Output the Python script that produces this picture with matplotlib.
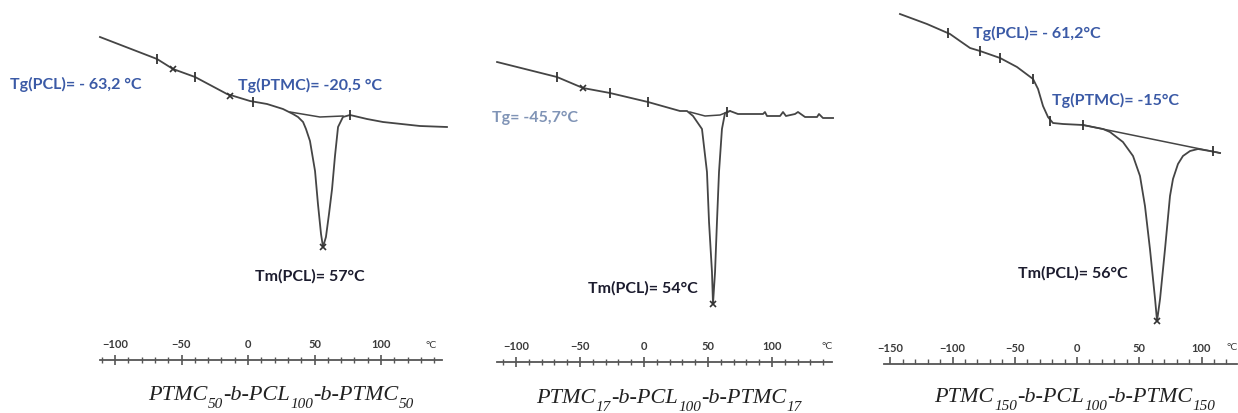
"""
DSC thermograms of the three PTMC-b-PCL-b-PTMC triblocks, side by side.
"""
import matplotlib
matplotlib.use("Agg")
import matplotlib.pyplot as plt
from matplotlib.ticker import MultipleLocator

BLUE = "#3b5aa6"
LIGHT_BLUE = "#8094b6"
DARK = "#1c1c2e"
CURVE = "#454545"

# ---- panel 1 : PTMC50-b-PCL100-b-PTMC50 (T in degC, heat flow in a.u.)
t1 = [-111.3, -68.4, -56.4, -39.8, -15.8, 1.5, 14.3, 26.3, 33.8, 37.6, 41.4,
      43.6, 46.6, 50.4, 52.6, 54.9, 56.4, 58.6, 60.9, 63.2, 65.4, 67.7, 71.4,
      76.7, 89.5, 101.5, 129.3, 149.6]
hf1 = [32.3, 30.1, 29.1, 28.3, 26.6, 25.9, 25.6, 25.1, 24.6, 24.3, 23.8,
       23.1, 21.9, 18.9, 15.6, 12.6, 11.3, 12.3, 14.6, 17.1, 20.4, 23.3, 24.3,
       24.5, 24.1, 23.8, 23.4, 23.3]
base1_t = [31.6, 54.1, 71.4]
base1_hf = [24.8, 24.3, 24.4]
tick1_t = [-68.4, -39.8, 3.8, 76.7]
tick1_hf = [30.1, 28.3, 25.8, 24.5]
cross1_t = [-56.4, -13.5, 56.4]
cross1_hf = [29.1, 26.4, 11.3]

# ---- panel 2 : PTMC17-b-PCL100-b-PTMC17
t2 = [-114.8, -68.0, -47.7, -26.6, 3.1, 28.1, 33.6, 38.3, 45.3, 49.2, 50.8,
      53.1, 53.9, 55.5, 57.0, 58.6, 60.9, 63.3, 67.2, 73.4, 93.0, 94.5, 96.1,
      106.3, 108.6, 110.9, 118.0, 120.3, 125.8, 135.2, 136.7, 139.8, 147.7]
hf2 = [30.0, 28.5, 27.4, 26.9, 26.0, 25.1, 25.1, 24.6, 23.3, 19.0, 14.0,
       9.0, 5.8, 9.0, 14.0, 19.0, 23.3, 24.9, 25.1, 24.8, 24.8, 25.0, 24.6,
       24.6, 25.0, 24.6, 24.8, 25.0, 24.5, 24.5, 24.8, 24.4, 24.4]
base2_t = [35.9, 47.7, 59.4, 67.2]
base2_hf = [25.0, 24.6, 24.7, 25.1]
tick2_t = [-68.0, -26.6, 3.1, 64.8]
tick2_hf = [28.5, 26.9, 26.0, 25.0]
cross2_t = [-47.7, 53.9]
cross2_hf = [27.4, 5.8]

# ---- panel 3 : PTMC150-b-PCL100-b-PTMC150
t3 = [-142.2, -120.5, -102.0, -94.0, -85.9, -77.9, -61.8, -48.2, -35.3,
      -31.3, -27.3, -23.3, -19.3, -11.2, 4.8, 20.9, 26.5, 36.9, 45.0, 50.6,
      54.6, 58.6, 62.7, 64.3, 66.7, 70.7, 74.7, 77.1, 81.1, 85.1, 90.8, 97.2,
      106.8, 114.9]
hf3 = [35.0, 34.0, 33.0, 32.3, 31.6, 31.3, 30.6, 29.7, 28.5, 27.5, 25.8,
       24.7, 24.1, 24.0, 23.9, 23.5, 23.2, 22.2, 20.8, 18.8, 15.8, 11.5, 6.5,
       4.3, 6.5, 11.5, 16.8, 18.5, 20.0, 20.8, 21.3, 21.5, 21.3, 21.1]
base3_t = [4.8, 114.9]
base3_hf = [23.9, 21.1]
tick3_t = [-103.6, -77.9, -61.8, -35.3, -21.7, 4.8, 109.2]
tick3_hf = [33.1, 31.3, 30.6, 28.5, 24.3, 23.9, 21.3]
cross3_t = [64.3]
cross3_hf = [4.3]

# captions: (text, is_subscript)
cap1 = [("PTMC", 0), ("50", 1), ("-b-PCL", 0), ("100", 1), ("-b-PTMC", 0), ("50", 1)]
cap2 = [("PTMC", 0), ("17", 1), ("-b-PCL", 0), ("100", 1), ("-b-PTMC", 0), ("17", 1)]
cap3 = [("PTMC", 0), ("150", 1), ("-b-PCL", 0), ("100", 1), ("-b-PTMC", 0), ("150", 1)]

panels = [
    dict(t=t1, hf=hf1, bt=base1_t, bhf=base1_hf, kt=tick1_t, khf=tick1_hf,
         xt=cross1_t, xhf=cross1_hf, px=(100, 442), x0=248, scale=1.33,
         line=361, tdir="inout", tlen=(7, 5), caption=cap1, cap_x=281, cap_y=396,
         notes=[("Tg(PCL)= - 63,2 °C", 10, 84, BLUE),
                ("Tg(PTMC)= -20,5 °C", 238, 85, BLUE),
                ("Tm(PCL)= 57°C", 255, 276, DARK)],
         degc=(431, 345)),
    dict(t=t2, hf=hf2, bt=base2_t, bhf=base2_hf, kt=tick2_t, khf=tick2_hf,
         xt=cross2_t, xhf=cross2_hf, px=(497, 832), x0=644, scale=1.28,
         line=363, tdir="inout", tlen=(7, 5), caption=cap2, cap_x=669, cap_y=399,
         notes=[("Tg= -45,7°C", 492, 118, LIGHT_BLUE),
                ("Tm(PCL)= 54°C", 588, 288, DARK)],
         degc=(827, 347)),
    dict(t=t3, hf=hf3, bt=base3_t, bhf=base3_hf, kt=tick3_t, khf=tick3_hf,
         xt=cross3_t, xhf=cross3_hf, px=(884, 1237), x0=1077, scale=1.245,
         line=365, tdir="in", tlen=(5, 3.5), caption=cap3, cap_x=1075, cap_y=398,
         notes=[("Tg(PCL)= - 61,2°C", 973, 33, BLUE),
                ("Tg(PTMC)= -15°C", 1052, 100, BLUE),
                ("Tm(PCL)= 56°C", 1018, 273, DARK)],
         degc=(1232, 348)),
]

W, H = 1238, 414
fig = plt.figure(figsize=(W / 100, H / 100), dpi=100)
overlay = fig.add_axes([0, 0, 1, 1])
overlay.set_axis_off()


def draw_caption(parts, xc, yc):
    """Italic serif caption with italic subscripts, centred on (xc, yc) px."""
    style = dict(family="Liberation Serif", style="italic", color="#222222",
                 annotation_clip=False)
    first = overlay.annotate(parts[0][0], xy=(xc, H - yc), xycoords="figure pixels",
                             xytext=(xc, H - yc), textcoords="figure pixels",
                             fontsize=16, ha="left", va="center", **style)
    arts, prev, main = [first], first, first
    for txt, sub in parts[1:]:
        if sub:
            a = overlay.annotate(txt, xy=(1, 0), xycoords=(prev, main),
                                 xytext=(0.3, -4), textcoords="offset points",
                                 fontsize=11, ha="left", va="bottom", **style)
        else:
            a = overlay.annotate(txt, xy=(1, 0), xycoords=(prev, main),
                                 xytext=(0, 0), textcoords="offset points",
                                 fontsize=16, ha="left", va="bottom", **style)
            main = a
        arts.append(a)
        prev = a
    r = fig.canvas.get_renderer()
    x0 = arts[0].get_window_extent(r).x0
    x1 = arts[-1].get_window_extent(r).x1
    first.xyann = (xc - (x1 - x0) / 2, H - yc)


for p in panels:
    xl, xr = p["px"]
    ax = fig.add_axes([xl / W, 1 - p["line"] / H, (xr - xl) / W, p["line"] / H])
    ax.set_xlim((xl - p["x0"]) / p["scale"], (xr - p["x0"]) / p["scale"])
    ax.set_ylim(0, p["line"] / 10)
    ax.patch.set_alpha(0)
    for s in ["top", "left", "right"]:
        ax.spines[s].set_visible(False)
    ax.spines["bottom"].set_color("#555555")
    ax.spines["bottom"].set_linewidth(1.3)
    ax.set_yticks([])

    ax.xaxis.set_major_locator(MultipleLocator(50))
    ax.xaxis.set_minor_locator(MultipleLocator(10))
    pad = -15.5 - (p["tlen"][0] / 2 if p["tdir"] == "inout" else 0)
    ax.tick_params(axis="x", which="major", direction=p["tdir"],
                   length=p["tlen"][0], width=1.2, color="#555555", pad=pad,
                   labelsize=8, labelcolor="#3a3a3a")
    ax.tick_params(axis="x", which="minor", direction=p["tdir"],
                   length=p["tlen"][1], width=1.0, color="#555555")
    for lab in ax.get_xticklabels():
        lab.set_fontweight("bold")
        lab.set_family("Lato")

    ax.plot(p["t"], p["hf"], color=CURVE, lw=1.3, clip_on=False)
    ax.plot(p["bt"], p["bhf"], color=CURVE, lw=1.1, clip_on=False)
    ax.plot(p["kt"], p["khf"], ls="none", marker="|", ms=7, mew=1.3,
            color="#333333", clip_on=False)
    ax.plot(p["xt"], p["xhf"], ls="none", marker="x", ms=5, mew=1.2,
            color="#333333", clip_on=False)

    for txt, x, y, col in p["notes"]:
        fig.text(x / W, 1 - y / H, txt, color=col, fontsize=11.5,
                 fontweight="bold", family="Lato", ha="left", va="center")
    fig.text(p["degc"][0] / W, 1 - p["degc"][1] / H, "°C", fontsize=7.5,
             color="#3a3a3a", family="Lato", ha="center", va="center")
    draw_caption(p["caption"], p["cap_x"], p["cap_y"])

fig.savefig("out.png", dpi=100)
plt.close(fig)
